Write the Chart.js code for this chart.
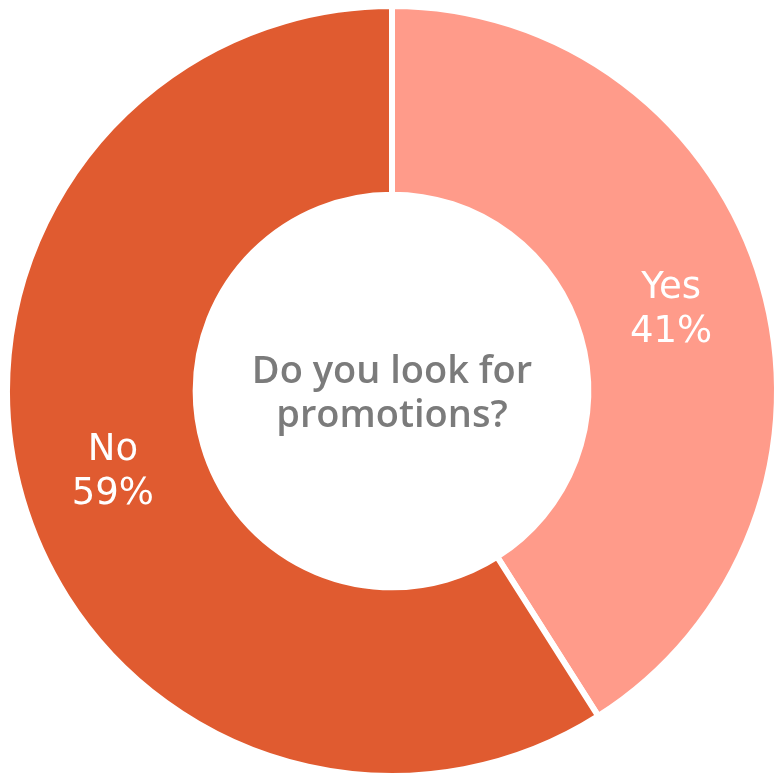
<!DOCTYPE html>
<html>
<head>
<meta charset="utf-8">
<script src="https://cdn.jsdelivr.net/npm/chart.js@4"></script>
<style>
    html, body { margin: 0; padding: 0; background: #fff; overflow: hidden; }
    #wrap { position: absolute; left: 0; top: 0; width: 784px; height: 782px; }
</style>
</head>
<body>
<div id="wrap"><canvas id="pieChart"></canvas></div>
<script>
const labels = ['Yes', 'No'];
const values = [41, 59];
const COLORS = ['#ff9b8a', '#e05b30'];
const centerLines = ['Do you look for', 'promotions?'];

const FONT = '"DejaVu Sans", sans-serif';

// label + persen di tengah tiap slice
const sliceLabels = {
    id: 'sliceLabels',
    afterDatasetsDraw(chart) {
        const { ctx } = chart;
        const meta = chart.getDatasetMeta(0);
        ctx.save();
        ctx.fillStyle = '#ffffff';
        ctx.textAlign = 'center';
        ctx.textBaseline = 'middle';
        ctx.font = '37px ' + FONT;
        meta.data.forEach((arc, i) => {
            const p = arc.tooltipPosition();
            ctx.fillText(labels[i], p.x, p.y - 22);
            ctx.fillText(values[i] + '%', p.x, p.y + 22);
        });
        ctx.restore();
    }
};

const centerText = {
    id: 'centerText',
    afterDraw(chart) {
        const { ctx } = chart;
        const arc = chart.getDatasetMeta(0).data[0];
        ctx.save();
        ctx.fillStyle = '#7b7b7b';
        ctx.textAlign = 'center';
        ctx.textBaseline = 'middle';
        ctx.font = '600 38px "Open Sans", sans-serif';
        ctx.fillText(centerLines[0], arc.x, arc.y - 19);
        ctx.fillText(centerLines[1], arc.x, arc.y + 25);
        ctx.restore();
    }
};

new Chart(document.getElementById('pieChart'), {
    type: 'doughnut',
    data: {
        labels,
        datasets: [{ data: values, backgroundColor: COLORS, borderWidth: 6, borderColor: '#fff' }]
    },
    options: {
        responsive: true,
        maintainAspectRatio: false,
        animation: false,
        cutout: '51%',
        layout: { padding: 3 },
        plugins: {
            legend: { display: false },
            tooltip: { enabled: false }
        }
    },
    plugins: [sliceLabels, centerText]
});
</script>
</body>
</html>
